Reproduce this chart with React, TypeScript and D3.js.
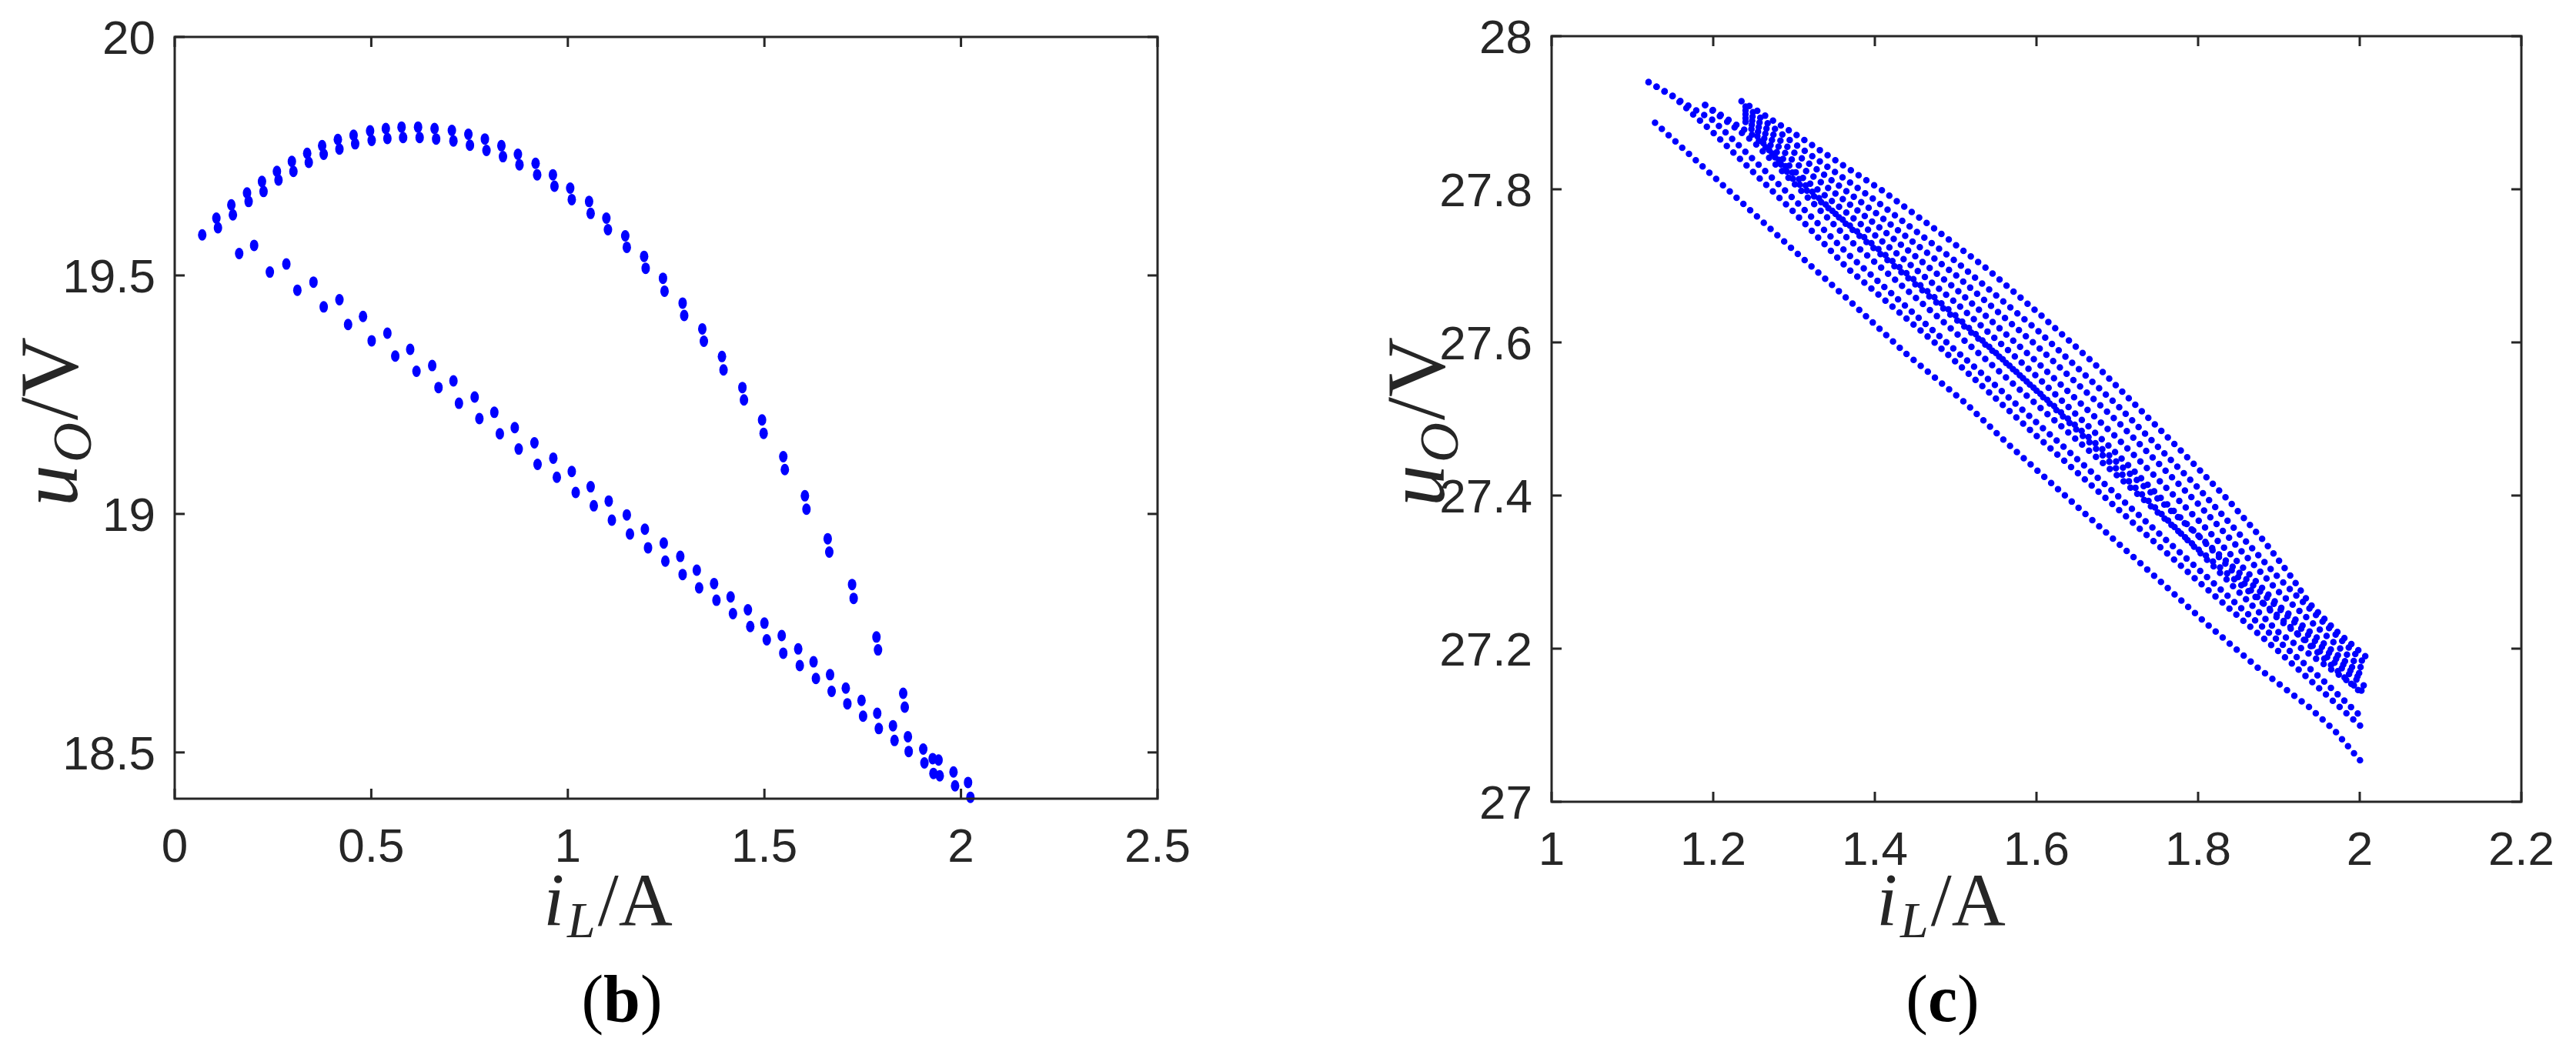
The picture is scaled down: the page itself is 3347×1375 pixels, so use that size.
import React from "react";
import * as d3 from "d3";

// ---------------- Panel (b) data ----------------
const bXTicks = [0, 0.5, 1, 1.5, 2, 2.5];
const bXTickLabels = ["0", "0.5", "1", "1.5", "2", "2.5"];
const bYTicks = [18.5, 19, 19.5, 20];
const bYTickLabels = ["18.5", "19", "19.5", "20"];
const bXDomain = [0, 2.5];
const bYDomain = [18.403, 20];

// upper arc (pairs of points)
const bArcX = [0.07, 0.106, 0.11, 0.144, 0.148, 0.184, 0.188, 0.222, 0.226, 0.26, 0.264, 0.298, 0.302, 0.337, 0.341, 0.375, 0.379, 0.415, 0.419, 0.455, 0.459, 0.497, 0.501, 0.537, 0.541, 0.577, 0.581, 0.619, 0.623, 0.661, 0.665, 0.705, 0.709, 0.747, 0.751, 0.789, 0.793, 0.831, 0.835, 0.873, 0.877, 0.918, 0.922, 0.962, 0.966, 1.006, 1.01, 1.054, 1.058, 1.098, 1.102, 1.146, 1.15, 1.194, 1.198, 1.242, 1.246, 1.292, 1.296, 1.342, 1.346, 1.392, 1.396, 1.444, 1.448, 1.494, 1.498, 1.548, 1.552, 1.603, 1.607, 1.661, 1.665, 1.723, 1.727, 1.785, 1.789, 1.853, 1.857];
const bArcY = [19.585, 19.62, 19.6, 19.648, 19.627, 19.673, 19.655, 19.697, 19.676, 19.718, 19.7, 19.739, 19.718, 19.756, 19.737, 19.772, 19.754, 19.785, 19.765, 19.794, 19.776, 19.803, 19.783, 19.808, 19.787, 19.811, 19.789, 19.811, 19.789, 19.808, 19.786, 19.804, 19.782, 19.796, 19.773, 19.786, 19.762, 19.772, 19.749, 19.754, 19.732, 19.735, 19.711, 19.711, 19.687, 19.683, 19.659, 19.655, 19.63, 19.62, 19.596, 19.583, 19.559, 19.54, 19.515, 19.494, 19.467, 19.442, 19.416, 19.388, 19.362, 19.33, 19.302, 19.265, 19.239, 19.197, 19.169, 19.12, 19.093, 19.038, 19.01, 18.948, 18.92, 18.852, 18.823, 18.742, 18.715, 18.624, 18.595];

// lower descending branch
const bLowX = [0.164, 0.202, 0.242, 0.284, 0.312, 0.353, 0.379, 0.419, 0.441, 0.479, 0.501, 0.541, 0.561, 0.599, 0.615, 0.655, 0.671, 0.709, 0.723, 0.763, 0.775, 0.813, 0.827, 0.865, 0.875, 0.915, 0.923, 0.963, 0.972, 1.01, 1.02, 1.058, 1.066, 1.104, 1.112, 1.15, 1.158, 1.196, 1.204, 1.244, 1.248, 1.286, 1.292, 1.328, 1.334, 1.372, 1.378, 1.414, 1.42, 1.458, 1.464, 1.5, 1.506, 1.544, 1.548, 1.586, 1.59, 1.625, 1.631, 1.667, 1.671, 1.707, 1.711, 1.747, 1.751, 1.787, 1.791, 1.827, 1.831, 1.865, 1.867, 1.904, 1.907, 1.928, 1.93, 1.943, 1.946, 1.981, 1.985, 2.018, 2.024];
const bLowY = [19.546, 19.563, 19.507, 19.524, 19.469, 19.486, 19.434, 19.449, 19.397, 19.414, 19.363, 19.379, 19.331, 19.345, 19.299, 19.311, 19.265, 19.279, 19.232, 19.245, 19.2, 19.213, 19.168, 19.181, 19.136, 19.149, 19.104, 19.117, 19.077, 19.089, 19.045, 19.057, 19.017, 19.027, 18.987, 18.998, 18.958, 18.968, 18.929, 18.939, 18.901, 18.911, 18.873, 18.882, 18.845, 18.854, 18.819, 18.826, 18.791, 18.799, 18.764, 18.771, 18.736, 18.745, 18.708, 18.717, 18.682, 18.69, 18.655, 18.663, 18.628, 18.635, 18.602, 18.609, 18.576, 18.582, 18.55, 18.556, 18.525, 18.533, 18.502, 18.507, 18.478, 18.487, 18.456, 18.484, 18.451, 18.459, 18.43, 18.437, 18.406];

// ---------------- Panel (c) data ----------------
const cXTicks = [1, 1.2, 1.4, 1.6, 1.8, 2, 2.2];
const cXTickLabels = ["1", "1.2", "1.4", "1.6", "1.8", "2", "2.2"];
const cYTicks = [27, 27.2, 27.4, 27.6, 27.8, 28];
const cYTickLabels = ["27", "27.2", "27.4", "27.6", "27.8", "28"];
const cXDomain = [1, 2.2];
const cYDomain = [27, 28];

// streaks of dots
const cL0X = [1.128, 1.2, 1.3, 1.369, 1.439, 1.512, 1.564, 1.65, 1.747, 1.81, 1.874, 1.937, 1.969, 2.007];
const cL0Y = [27.887, 27.817, 27.72, 27.654, 27.585, 27.521, 27.468, 27.386, 27.294, 27.233, 27.175, 27.124, 27.093, 27.046];
const cL1X = [1.12, 1.15, 1.2, 1.3, 1.366, 1.476, 1.6, 1.7, 1.8, 1.9, 1.95, 2.005];
const cL1Y = [27.94, 27.922, 27.874, 27.77, 27.697, 27.598, 27.478, 27.383, 27.288, 27.196, 27.148, 27.095];
const cL2X = [1.12, 1.2, 1.3, 1.366, 1.45, 1.55, 1.65, 1.75, 1.85, 1.95, 2.005];
const cL2Y = [27.94, 27.89, 27.787, 27.716, 27.636, 27.543, 27.448, 27.352, 27.256, 27.163, 27.108];
const cL3X = [1.19, 1.25, 1.366, 1.476, 1.6, 1.7, 1.8, 1.9, 2.005];
const cL3Y = [27.91, 27.862, 27.736, 27.635, 27.519, 27.426, 27.33, 27.242, 27.139];
const cL4X = [1.19, 1.25, 1.366, 1.45, 1.55, 1.65, 1.75, 1.85, 1.95, 2.005];
const cL4Y = [27.91, 27.87, 27.753, 27.676, 27.585, 27.49, 27.396, 27.3, 27.205, 27.157];
const cUX = [1.235, 1.3, 1.373, 1.407, 1.472, 1.539, 1.605, 1.671, 1.77, 1.804, 1.839, 1.882, 1.918, 1.937, 1.969, 2.007];
const cUY = [27.915, 27.873, 27.823, 27.8, 27.75, 27.696, 27.636, 27.573, 27.468, 27.431, 27.392, 27.34, 27.29, 27.26, 27.225, 27.19];
const cDX = [1.24, 1.3, 1.4, 1.5, 1.6, 1.7, 1.8, 1.9, 2.005];
const cD1Y = [27.908, 27.86, 27.786, 27.706, 27.617, 27.518, 27.41, 27.292, 27.182];
const cD2Y = [27.903, 27.848, 27.77, 27.688, 27.596, 27.497, 27.389, 27.274, 27.172];
const cD3Y = [27.898, 27.836, 27.755, 27.67, 27.575, 27.475, 27.368, 27.256, 27.163];
const cD4Y = [27.893, 27.824, 27.74, 27.652, 27.556, 27.454, 27.348, 27.238, 27.152];
const cD5Y = [27.888, 27.812, 27.726, 27.635, 27.537, 27.434, 27.328, 27.221, 27.143];

const W = 3347;
const H = 1375;
const AX = "#262626";
const BLUE = "#0000ff";
const SANS = "'Liberation Sans', Arial, Helvetica, sans-serif";
const SERIF = "'Liberation Serif', 'Times New Roman', serif";

function Axes({ xs, ys, xTicks, yTicks, xLabels, yLabels }: any) {
  const [x0, x1] = xs.range();
  const [yb, yt] = ys.range();
  const tl = 13;
  return (
    <g>
      {xTicks.map((t: number, i: number) => (
        <g key={"x" + i}>
          <line x1={xs(t)} x2={xs(t)} y1={yb} y2={yb - tl} stroke={AX} strokeWidth={3} />
          <line x1={xs(t)} x2={xs(t)} y1={yt} y2={yt + tl} stroke={AX} strokeWidth={3} />
          <text x={xs(t)} y={yb + 82} textAnchor="middle" fontFamily={SANS} fontSize={62} fill={AX}>
            {xLabels[i]}
          </text>
        </g>
      ))}
      {yTicks.map((t: number, i: number) => (
        <g key={"y" + i}>
          <line x1={x0} x2={x0 + tl} y1={ys(t)} y2={ys(t)} stroke={AX} strokeWidth={3} />
          <line x1={x1} x2={x1 - tl} y1={ys(t)} y2={ys(t)} stroke={AX} strokeWidth={3} />
          <text x={x0 - 25} y={ys(t)} dy="0.36em" textAnchor="end" fontFamily={SANS} fontSize={62} fill={AX}>
            {yLabels[i]}
          </text>
        </g>
      ))}
      <rect x={x0} y={yt} width={x1 - x0} height={yb - yt} fill="none" stroke={AX} strokeWidth={3} />
    </g>
  );
}

function YLabel({ x, y }: any) {
  return (
    <text transform={`translate(${x},${y}) rotate(-90)`} textAnchor="middle" fontFamily={SERIF} fontSize={108} fill={AX}>
      <tspan fontStyle="italic">u</tspan>
      <tspan fontStyle="italic" fontSize={72} dx={3} dy={18}>O</tspan>
      <tspan dx={3} dy={-18}>/V</tspan>
    </text>
  );
}

function XLabel({ x, y }: any) {
  return (
    <text x={x} y={y} textAnchor="middle" fontFamily={SERIF} fontSize={97} fill={AX}>
      <tspan fontStyle="italic">i</tspan>
      <tspan fontStyle="italic" fontSize={66} dx={4} dy={16}>L</tspan>
      <tspan dx={3} dy={-16}>/A</tspan>
    </text>
  );
}

function Caption({ x, y, letter }: any) {
  return (
    <text x={x} y={y} textAnchor="middle" fontFamily={SERIF} fontSize={86} fill="#000">
      <tspan>(</tspan>
      <tspan fontWeight="bold">{letter}</tspan>
      <tspan>)</tspan>
    </text>
  );
}

export default function App() {
  const bx = d3.scaleLinear().domain(bXDomain).range([227, 1504]);
  const by = d3.scaleLinear().domain(bYDomain).range([1038, 48]);
  const cx = d3.scaleLinear().domain(cXDomain).range([2016, 3276]);
  const cy = d3.scaleLinear().domain(cYDomain).range([1042, 47]);

  const bPts = [...d3.zip(bArcX, bArcY), ...d3.zip(bLowX, bLowY)];

  const streaks: [number[], number[]][] = [
    [cL0X, cL0Y],
    [cL1X, cL1Y],
    [cL2X, cL2Y],
    [cL3X, cL3Y],
    [cL4X, cL4Y],
    [cDX, cD5Y],
    [cDX, cD4Y],
    [cDX, cD3Y],
    [cDX, cD2Y],
    [cDX, cD1Y],
    [cUX, cUY],
  ];
  const line = d3
    .line<[number, number]>()
    .x((d) => cx(d[0]))
    .y((d) => cy(d[1]));

  return (
    <svg width={W} height={H} style={{ position: "absolute", left: 0, top: 0, background: "#fff" }}>
      <rect x={0} y={0} width={W} height={H} fill="#fff" />
      {/* Panel (b) */}
      <g>
        {bPts.map((d, i) => (
          <ellipse key={i} cx={bx(d[0])} cy={by(d[1])} rx={5.5} ry={7.5} fill={BLUE} />
        ))}
        <Axes xs={bx} ys={by} xTicks={bXTicks} yTicks={bYTicks} xLabels={bXTickLabels} yLabels={bYTickLabels} />
        <YLabel x={100} y={548} />
        <XLabel x={790} y={1202} />
        <Caption x={808} y={1327} letter="b" />
      </g>
      {/* Panel (c) */}
      <g>
        {streaks.map((s, i) => (
          <path
            key={i}
            d={line(d3.zip(s[0], s[1]) as [number, number][]) || ""}
            fill="none"
            stroke={BLUE}
            strokeWidth={8.5}
            strokeLinecap="round"
            strokeDasharray="0 12"
          />
        ))}
        <Axes xs={cx} ys={cy} xTicks={cXTicks} yTicks={cYTicks} xLabels={cXTickLabels} yLabels={cYTickLabels} />
        <YLabel x={1876} y={548} />
        <XLabel x={2522} y={1202} />
        <Caption x={2524} y={1327} letter="c" />
      </g>
    </svg>
  );
}
